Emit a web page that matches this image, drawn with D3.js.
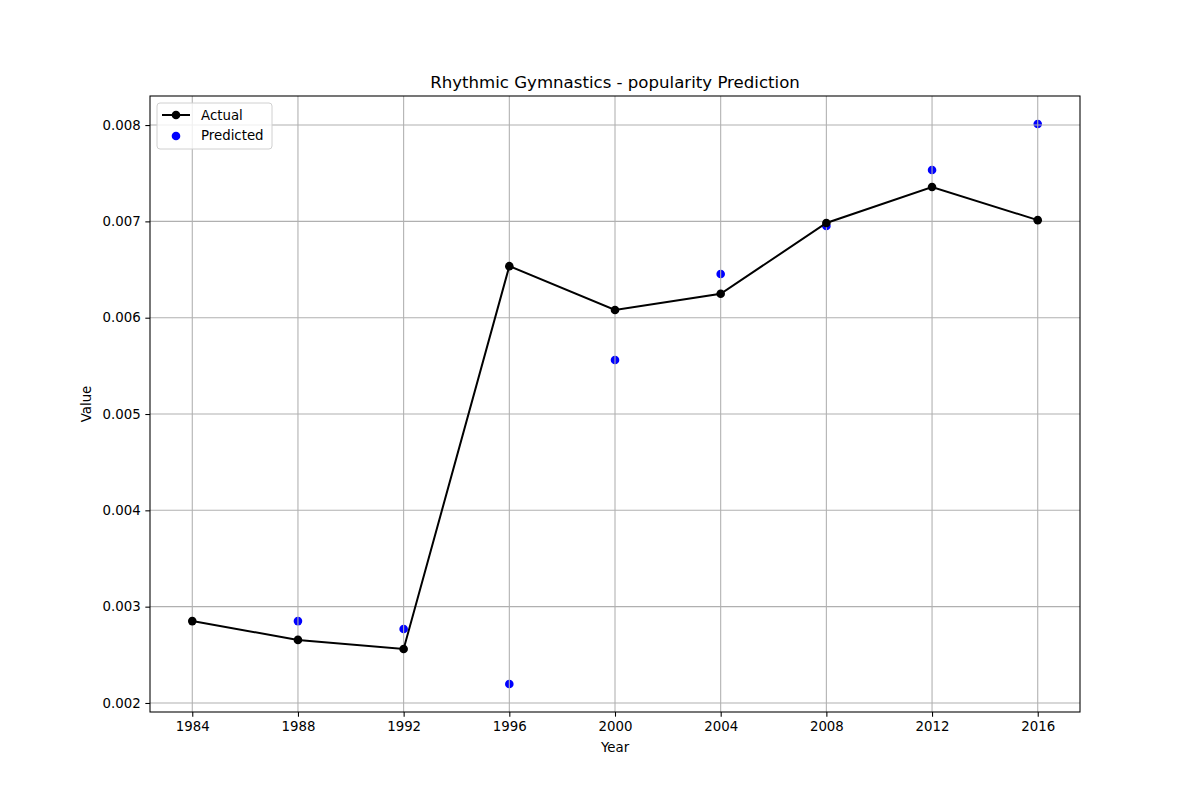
<!DOCTYPE html>
<html>
<head>
<meta charset="utf-8">
<script src="https://cdn.jsdelivr.net/npm/d3@7"></script>
<style>
  body { margin: 0; background: #fff; }
  svg { font-family: "DejaVu Sans", sans-serif; }
</style>
</head>
<body>
<script>
// data
var years = [1984, 1988, 1992, 1996, 2000, 2004, 2008, 2012, 2016];
var actual = [0.00285, 0.002655, 0.00256, 0.006535, 0.00608, 0.006248, 0.006983, 0.007357, 0.007013];
var predYears = [1988, 1992, 1996, 2000, 2004, 2008, 2012, 2016];
var predicted = [0.00285, 0.002768, 0.002197, 0.005561, 0.006453, 0.006952, 0.007533, 0.008011];
var yTicks = [0.002, 0.003, 0.004, 0.005, 0.006, 0.007, 0.008];

var W = 1200, H = 800;
var margin = {left: 150, right: 120, top: 96, bottom: 88};
var width = W - margin.left - margin.right,
    height = H - margin.top - margin.bottom;

var svg = d3.select("body").append("svg")
  .attr("width", W)
  .attr("height", H);

var g = svg.append("g")
  .attr("transform", "translate(" + margin.left + "," + margin.top + ")");

// 5% padding like matplotlib autoscale
var xPad = (2016 - 1984) * 0.05;
var x = d3.scaleLinear().domain([1984 - xPad, 2016 + xPad]).range([0, width]);
var yMin = 0.002197, yMax = 0.008011, yPad = (yMax - yMin) * 0.05;
var y = d3.scaleLinear().domain([yMin - yPad, yMax + yPad]).range([height, 0]);

// predicted scatter (below grid)
g.selectAll("circle.pred")
  .data(predYears)
.enter().append("circle")
  .attr("class", "pred")
  .attr("cx", function(d) { return x(d); })
  .attr("cy", function(d, i) { return y(predicted[i]); })
  .attr("r", 4.3)
  .style("fill", "#0000ff");

// grid
g.selectAll("line.gx")
  .data(years)
.enter().append("line")
  .attr("x1", function(d) { return x(d); })
  .attr("x2", function(d) { return x(d); })
  .attr("y1", 0).attr("y2", height)
  .style("stroke", "#b0b0b0").style("stroke-width", 1.07);

g.selectAll("line.gy")
  .data(yTicks)
.enter().append("line")
  .attr("y1", function(d) { return y(d); })
  .attr("y2", function(d) { return y(d); })
  .attr("x1", 0).attr("x2", width)
  .style("stroke", "#b0b0b0").style("stroke-width", 1.07);

// actual line + markers
var line = d3.line()
  .x(function(d) { return x(d); })
  .y(function(d, i) { return y(actual[i]); });

g.append("path")
  .datum(years)
  .attr("d", line)
  .style("fill", "none")
  .style("stroke", "#000")
  .style("stroke-width", 2);

g.selectAll("circle.act")
  .data(years)
.enter().append("circle")
  .attr("class", "act")
  .attr("cx", function(d) { return x(d); })
  .attr("cy", function(d, i) { return y(actual[i]); })
  .attr("r", 4.3)
  .style("fill", "#000");

// axes
var xAxis = d3.axisBottom(x).tickValues(years).tickFormat(d3.format("d")).tickSize(4.67).tickPadding(4.67);
var yAxis = d3.axisLeft(y).tickValues(yTicks).tickFormat(d3.format(".3f")).tickSize(4.67).tickPadding(4.67);

var gx = g.append("g").attr("transform", "translate(0," + height + ")").call(xAxis);
var gy = g.append("g").call(yAxis);
[gx, gy].forEach(function(a) {
  a.select(".domain").remove();
  a.selectAll("text").style("font-size", "13.33px").style("fill", "#000").style("font-family", "DejaVu Sans");
  a.selectAll(".tick line").style("stroke", "#000").style("stroke-width", 1.07);
});

// frame
g.append("rect")
  .attr("width", width).attr("height", height)
  .style("fill", "none").style("stroke", "#000").style("stroke-width", 1.07);

// labels
svg.append("text")
  .attr("x", margin.left + width / 2).attr("y", margin.top - 8)
  .attr("text-anchor", "middle")
  .style("font-size", "16.6px")
  .text("Rhythmic Gymnastics - popularity Prediction");

svg.append("text")
  .attr("x", margin.left + width / 2).attr("y", 752)
  .attr("text-anchor", "middle")
  .style("font-size", "13.33px")
  .text("Year");

svg.append("text")
  .attr("transform", "translate(91," + (margin.top + height / 2) + ") rotate(-90)")
  .attr("text-anchor", "middle")
  .style("font-size", "13.33px")
  .text("Value");

// legend
var lg = g.append("g").attr("transform", "translate(7,7)");
lg.append("rect")
  .attr("width", 115).attr("height", 46).attr("rx", 3)
  .style("fill", "#fff").style("fill-opacity", 0.8)
  .style("stroke", "#d0d0d0").style("stroke-width", 1);
lg.append("line")
  .attr("x1", 5).attr("x2", 33).attr("y1", 12).attr("y2", 12)
  .style("stroke", "#000").style("stroke-width", 2);
lg.append("circle").attr("cx", 19).attr("cy", 12).attr("r", 4.3).style("fill", "#000");
lg.append("circle").attr("cx", 19).attr("cy", 33).attr("r", 4.3).style("fill", "#0000ff");
lg.append("text").attr("x", 44).attr("y", 16.5).style("font-size", "13.33px").text("Actual");
lg.append("text").attr("x", 44).attr("y", 36.5).style("font-size", "13.33px").text("Predicted");
</script>
</body>
</html>
